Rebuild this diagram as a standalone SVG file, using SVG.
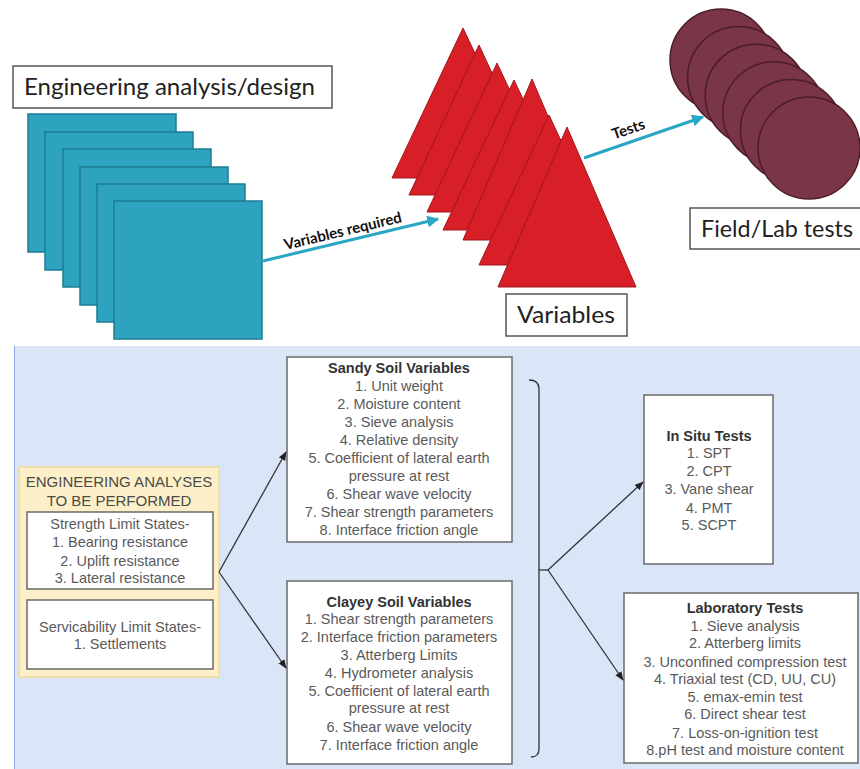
<svg xmlns="http://www.w3.org/2000/svg" width="860" height="769" viewBox="0 0 860 769">
  <style>
    .sq { fill: #2ea3bf; stroke: #1d7d95; stroke-width: 1.5; }
    .tri { fill: #d81f27; stroke: #a3161c; stroke-width: 1; }
    .cir { fill: #7a3546; stroke: #4b1d28; stroke-width: 1.5; }
    .lbl { fill: #ffffff; stroke: #555555; stroke-width: 1.5; }
    .big { font-family: Lato, "Liberation Sans", sans-serif; font-size: 24px; fill: #222222; }
    .tag { font-family: Lato, "Liberation Sans", sans-serif; font-size: 15px; font-weight: bold; fill: #111111; }
    .cyan { stroke: #2aa5c4; stroke-width: 3; fill: none; }
    .box { fill: #ffffff; stroke: #6a6a6a; stroke-width: 1.5; }
    .ybox { fill: #fdf0c9; stroke: #f2dc9c; stroke-width: 1.5; }
    .txt { font-family: "Liberation Sans", Arial, sans-serif; font-size: 14.5px; fill: #5a5a5a; text-anchor: middle; }
    .ttl { font-family: "Liberation Sans", Arial, sans-serif; font-size: 14.5px; font-weight: bold; fill: #333333; text-anchor: middle; }
    .cap { font-family: "Liberation Sans", Arial, sans-serif; font-size: 15px; fill: #4a4a4a; text-anchor: middle; }
    .link { stroke: #333333; stroke-width: 1.3; fill: none; }
  </style>
  <defs>
    <marker id="cyanHead" viewBox="0 0 10 10" refX="9" refY="5" markerWidth="4" markerHeight="4" orient="auto" markerUnits="strokeWidth">
      <path d="M0,0 L10,5 L0,10 z" fill="#2aa5c4"/>
    </marker>
    <marker id="darkHead" viewBox="0 0 10 10" refX="9" refY="5" markerWidth="7" markerHeight="7" orient="auto" markerUnits="strokeWidth">
      <path d="M0,1 L10,5 L0,9 z" fill="#222222"/>
    </marker>
  </defs>

  <rect x="0" y="0" width="860" height="769" fill="#ffffff"/>

  <!-- lower panel background -->
  <rect x="14" y="346" width="846" height="423" fill="#dae5f7"/>
  <line x1="14.5" y1="346" x2="14.5" y2="769" stroke="#8eaee6" stroke-width="1"/>

  <!-- stack of analysis sheets -->
  <g id="analysis-sheets">
    <rect class="sq" x="28" y="114" width="148" height="138"/>
    <rect class="sq" x="45" y="132" width="148" height="138"/>
    <rect class="sq" x="63" y="149" width="148" height="138"/>
    <rect class="sq" x="80" y="167" width="148" height="138"/>
    <rect class="sq" x="97" y="184" width="148" height="138"/>
    <rect class="sq" x="114" y="201" width="148" height="138"/>
  </g>

  <g id="analysis-label">
    <rect class="lbl" x="13" y="66" width="319" height="42"/>
    <text class="big" x="24" y="95" textLength="291" lengthAdjust="spacingAndGlyphs">Engineering analysis/design</text>
  </g>

  <!-- stack of variable triangles -->
  <g id="variable-stack">
    <polygon class="tri" points="463,28 534,178 392,178"/>
    <polygon class="tri" points="479,45 549,195 409,195"/>
    <polygon class="tri" points="497,63 567,212 427,212"/>
    <polygon class="tri" points="514,80 585,230 443,230"/>
    <polygon class="tri" points="532,79 601,240 463,240"/>
    <polygon class="tri" points="549,115 619,265 479,265"/>
    <polygon class="tri" points="567,127 636,287 498,287"/>
  </g>

  <g id="variables-label">
    <rect class="lbl" x="506" y="294" width="121" height="42"/>
    <text class="big" x="517" y="323" textLength="98" lengthAdjust="spacingAndGlyphs">Variables</text>
  </g>

  <!-- stack of test discs -->
  <g id="test-discs">
    <circle class="cir" cx="721" cy="60" r="51"/>
    <circle class="cir" cx="738.6" cy="77.6" r="51"/>
    <circle class="cir" cx="756.2" cy="95.2" r="51"/>
    <circle class="cir" cx="773.8" cy="112.8" r="51"/>
    <circle class="cir" cx="791.4" cy="130.4" r="51"/>
    <circle class="cir" cx="809" cy="148" r="51"/>
  </g>

  <g id="tests-label">
    <rect class="lbl" x="690" y="208" width="175" height="41"/>
    <text class="big" x="701" y="237" textLength="152" lengthAdjust="spacingAndGlyphs">Field/Lab tests</text>
  </g>

  <!-- upper flow arrows -->
  <g id="upper-connectors">
    <line class="cyan" x1="263" y1="261" x2="438" y2="219" marker-end="url(#cyanHead)"/>
    <text class="tag" transform="translate(344,236) rotate(-13.5)" text-anchor="middle">Variables required</text>
    <line class="cyan" x1="584" y1="158" x2="703" y2="117" marker-end="url(#cyanHead)"/>
    <text class="tag" transform="translate(630,134) rotate(-19)" text-anchor="middle">Tests</text>
  </g>

  <!-- engineering analyses -->
  <g id="analyses">
    <rect class="ybox" x="19" y="467" width="200" height="210"/>
    <text class="cap" x="119" y="487">ENGINEERING ANALYSES</text>
    <text class="cap" x="119" y="506">TO BE PERFORMED</text>
    <rect class="box" x="27" y="512" width="186" height="77"/>
    <text class="txt" x="120" y="529">Strength Limit States-</text>
    <text class="txt" x="120" y="547">1. Bearing resistance</text>
    <text class="txt" x="120" y="566">2. Uplift resistance</text>
    <text class="txt" x="120" y="583">3. Lateral resistance</text>
    <rect class="box" x="27" y="600" width="186" height="69"/>
    <text class="txt" x="120" y="632">Servicability Limit States-</text>
    <text class="txt" x="120" y="649">1. Settlements</text>
  </g>

  <g id="sandy">
    <rect class="box" x="287" y="357" width="225" height="185"/>
    <text class="ttl" x="399" y="373">Sandy Soil Variables</text>
    <text class="txt" x="399" y="391">1. Unit weight</text>
    <text class="txt" x="399" y="409">2. Moisture content</text>
    <text class="txt" x="399" y="427">3. Sieve analysis</text>
    <text class="txt" x="399" y="445">4. Relative density</text>
    <text class="txt" x="399" y="463">5. Coefficient of lateral earth</text>
    <text class="txt" x="399" y="481">pressure at rest</text>
    <text class="txt" x="399" y="499">6. Shear wave velocity</text>
    <text class="txt" x="399" y="517">7. Shear strength parameters</text>
    <text class="txt" x="399" y="535">8. Interface friction angle</text>
  </g>

  <g id="clayey">
    <rect class="box" x="287" y="581" width="225" height="183"/>
    <text class="ttl" x="399" y="607">Clayey Soil Variables</text>
    <text class="txt" x="399" y="624">1. Shear strength parameters</text>
    <text class="txt" x="399" y="642">2. Interface friction parameters</text>
    <text class="txt" x="399" y="660">3. Atterberg Limits</text>
    <text class="txt" x="399" y="678">4. Hydrometer analysis</text>
    <text class="txt" x="399" y="696">5. Coefficient of lateral earth</text>
    <text class="txt" x="399" y="713">pressure at rest</text>
    <text class="txt" x="399" y="732">6. Shear wave velocity</text>
    <text class="txt" x="399" y="750">7. Interface friction angle</text>
  </g>

  <g id="in-situ">
    <rect class="box" x="644" y="395" width="129" height="169"/>
    <text class="ttl" x="709" y="441">In Situ Tests</text>
    <text class="txt" x="709" y="458">1. SPT</text>
    <text class="txt" x="709" y="476">2. CPT</text>
    <text class="txt" x="709" y="494">3. Vane shear</text>
    <text class="txt" x="709" y="513">4. PMT</text>
    <text class="txt" x="709" y="530">5. SCPT</text>
  </g>

  <g id="laboratory">
    <rect class="box" x="624" y="593" width="234" height="170"/>
    <text class="ttl" x="745" y="613">Laboratory Tests</text>
    <text class="txt" x="745" y="631">1. Sieve analysis</text>
    <text class="txt" x="745" y="648">2. Atterberg limits</text>
    <text class="txt" x="745" y="667">3. Unconfined compression test</text>
    <text class="txt" x="745" y="684">4. Triaxial test (CD, UU, CU)</text>
    <text class="txt" x="745" y="702">5. emax-emin test</text>
    <text class="txt" x="745" y="719">6. Direct shear test</text>
    <text class="txt" x="745" y="738">7. Loss-on-ignition test</text>
    <text class="txt" x="745" y="755">8.pH test and moisture content</text>
  </g>

  <!-- lower connectors -->
  <g id="lower-connectors">
    <line class="link" x1="219" y1="572" x2="286" y2="452" marker-end="url(#darkHead)"/>
    <line class="link" x1="219" y1="572" x2="286" y2="668" marker-end="url(#darkHead)"/>
    <path class="link" d="M529,380 Q539,380 539,389 L539,749 Q539,757 531,757"/>
    <line class="link" x1="539" y1="570" x2="548" y2="570"/>
    <line class="link" x1="548" y1="570" x2="643" y2="482" marker-end="url(#darkHead)"/>
    <line class="link" x1="548" y1="570" x2="623" y2="680" marker-end="url(#darkHead)"/>
  </g>
</svg>
